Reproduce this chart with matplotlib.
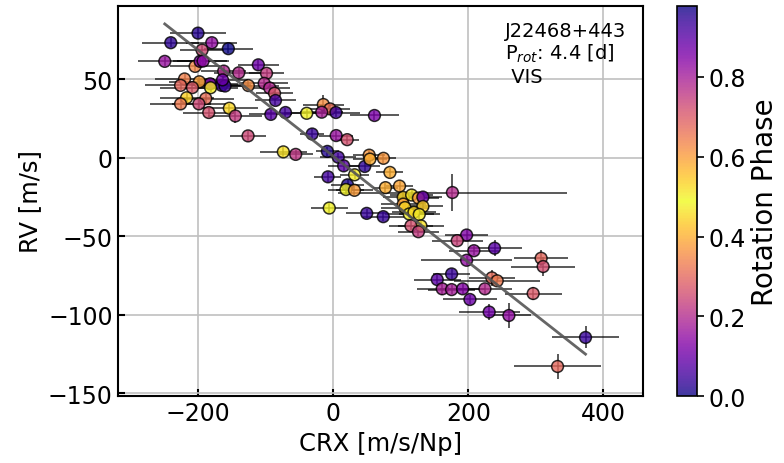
import numpy as np
import matplotlib
matplotlib.use("Agg")
import matplotlib.pyplot as plt
from matplotlib.colors import ListedColormap, Normalize

# ---- data ----
crx = [-200.1, -240.4, -179.7, -155.2, -194.1, -249.3, -204.4, -197.0, -192.6, -110.8,
       -98.7, -139.8, -162.0, -102.1, -93.9, -86.8, -85.4, -92.3, -125.6, -182.2,
       -165.2, -160.1, -163.8, -198.1, -220.0, -225.9, -208.4, -181.5, -217.0, -188.6,
       -225.9, -198.8, -184.2, -153.7, -144.8,
       -70.6, -39.2, -14.6, -4.7, -17.0, 4.1, 61.1, -126.0, -73.8, -55.5,
       -31.1, 4.4, 20.7, -8.6, 7.5, 15.5, 31.7, 46.7, 53.3, 54.4,
       74.4, 84.0, -7.7, 21.2, 18.9, 31.5, 77.4, 98.2, -5.8, 49.6,
       74.1, 103.7, 116.1, 126.2, 132.8, 103.7, 106.2, 132.8, 112.6, 119.5,
       127.4, 129.9, 115.1, 126.2, 176.5,
       197.5, 183.6, 208.3, 238.9, 197.5, 307.8, 310.8, 175.3, 154.0, 234.9,
       242.8, 161.4, 175.3, 191.6, 224.6, 296.0, 202.4, 230.9, 260.1, 373.5,
       332.1]
rv = [79.5, 73.4, 73.4, 69.6, 68.7, 61.5, 58.3, 61.5, 61.7, 59.3,
      53.9, 54.2, 55.3, 47.5, 44.5, 41.2, 36.6, 27.7, 46.1, 47.2,
      46.2, 45.8, 49.7, 48.5, 50.3, 46.2, 44.8, 44.7, 38.3, 37.8,
      34.4, 34.4, 28.9, 31.6, 26.7,
      28.9, 28.4, 34.0, 31.2, 29.1, 28.9, 27.0, 14.0, 3.8, 2.2,
      15.2, 14.2, 11.6, 4.1, 0.4, -5.1, -10.8, -5.5, 1.7, -0.8,
      -0.3, -9.3, -12.1, -17.2, -20.2, -20.7, -19.0, -18.0, -32.0, -35.4,
      -37.5, -25.2, -23.7, -25.6, -25.0, -29.5, -31.7, -31.0, -35.8, -34.7,
      -36.1, -43.4, -43.3, -47.1, -22.1,
      -49.2, -52.8, -59.2, -57.6, -65.3, -64.0, -69.3, -74.0, -77.6, -76.5,
      -78.4, -83.5, -84.0, -83.5, -83.5, -86.5, -90.3, -98.3, -100.5, -114.5,
      -133.0]
crx_err = [41, 42, 38, 36, 33, 40, 37, 40, 38, 30,
           26, 37, 33, 35, 30, 28, 30, 32, 45, 42,
           44, 40, 38, 45, 44, 52, 48, 40, 40, 42,
           45, 40, 38, 42, 40,
           30, 33, 30, 30, 32, 35, 36, 27, 35, 25,
           18, 25, 18, 17, 27, 23, 22, 22, 24, 25,
           18, 20, 20, 24, 26, 28, 18, 20, 27, 30,
           30, 30, 32, 30, 28, 33, 35, 30, 36, 32,
           30, 34, 33, 30, 170,
           32, 38, 37, 40, 67, 40, 47, 27, 35, 34,
           64, 38, 35, 33, 40, 42, 40, 45, 33, 50,
           65]
rv_err = [3, 3, 3, 3, 3, 3, 3, 3, 3, 3,
          3, 3, 3, 3, 3, 3, 3, 3, 3, 3,
          3, 3, 3, 3, 3, 3, 3, 3, 3, 3,
          3, 3, 3, 3, 4.5,
          3, 3, 6, 3, 3, 3, 3, 3, 3, 3,
          3, 3, 3, 3, 3, 3, 3, 3, 3, 3,
          3, 3, 3, 3, 3, 3, 3, 3, 3, 3,
          3, 3, 3, 3, 3, 3, 3, 3, 3, 3,
          3, 3, 3, 3, 12,
          3, 3, 3, 5, 3, 5, 6, 3, 3, 5,
          3, 4, 3, 3, 3, 4, 3, 5, 8, 7,
          8]
phase = [0.02, 0.95, 0.15, 0.0, 0.25, 0.82, 0.35, 0.12, 0.83, 0.10,
         0.75, 0.20, 0.78, 0.20, 0.78, 0.27, 0.05, 0.90, 0.62, 0.12,
         0.05, 0.93, 0.10, 0.38, 0.64, 0.30, 0.70, 0.47, 0.44, 0.31,
         0.33, 0.73, 0.26, 0.45, 0.75,
         0.05, 0.48, 0.62, 0.31, 0.18, 0.93, 0.12, 0.73, 0.46, 0.22,
         0.04, 0.82, 0.26, 0.96, 0.05, 0.08, 0.47, 0.95, 0.37, 0.58,
         0.61, 0.40, 0.05, 0.97, 0.48, 0.60, 0.40, 0.59, 0.48, 0.04,
         0.94, 0.45, 0.51, 0.38, 0.88, 0.60, 0.45, 0.54, 0.48, 0.45,
         0.47, 0.46, 0.26, 0.75, 0.20,
         0.85, 0.74, 0.82, 0.08, 0.15, 0.30, 0.72, 0.04, 0.90, 0.67,
         0.33, 0.18, 0.80, 0.13, 0.20, 0.70, 0.10, 0.87, 0.15, 0.04,
         0.30]
phase_max = 0.978
fit_slope = -0.338
fit_intercept = 1.1
star_label = "J22468+443\nP$_{rot}$: 4.4 [d]\n VIS"

# ---- figure ----
fig = plt.figure(figsize=(7.84, 4.64), dpi=100)
ax = fig.add_axes([0.1501, 0.1438, 0.6704, 0.8418])
cax = fig.add_axes([0.8635, 0.1438, 0.0249, 0.8418])

base = plt.get_cmap("plasma")
cyc = np.vstack([base(np.linspace(0, 1, 128)), base(np.linspace(1, 0, 128))])
cmap = ListedColormap(cyc)
norm = Normalize(vmin=0.0, vmax=phase_max)

ax.grid(True, color="#c0c0c0", lw=1.2, zorder=0)
ax.set_axisbelow(True)

ax.errorbar(crx, rv, xerr=crx_err, yerr=rv_err, fmt="none", ecolor="k",
            elinewidth=1.4, alpha=0.65, zorder=2)
sc = ax.scatter(crx, rv, c=phase, cmap=cmap, norm=norm, s=72, alpha=0.8,
                edgecolors="k", linewidths=1.1, zorder=3)

xl = np.array([min(crx), max(crx)])
ax.plot(xl, fit_intercept + fit_slope * xl, color="#555555", lw=2, alpha=0.9, zorder=4)

ax.set_xlim(-319, 459)
ax.set_ylim(-152, 97)
ax.set_xticks([-200, 0, 200, 400])
ax.set_yticks([-150, -100, -50, 0, 50])
ax.tick_params(direction="in", labelsize=17, length=5, width=1.5)
for s in ax.spines.values():
    s.set_linewidth(1.5)
ax.set_xlabel("CRX [m/s/Np]", fontsize=17.5)
ax.set_ylabel("RV [m/s]", fontsize=17.5)

ax.text(0.737, 0.962, star_label, transform=ax.transAxes, fontsize=14,
        va="top", ha="left", linespacing=1.15)

cb = fig.colorbar(sc, cax=cax)
cb.set_ticks([0.0, 0.2, 0.4, 0.6, 0.8])
cb.ax.tick_params(labelsize=17, direction="out", length=5, width=1.2)
cb.set_label("Rotation Phase", fontsize=20)
cb.outline.set_linewidth(1.2)

fig.savefig("out.png", dpi=100)
